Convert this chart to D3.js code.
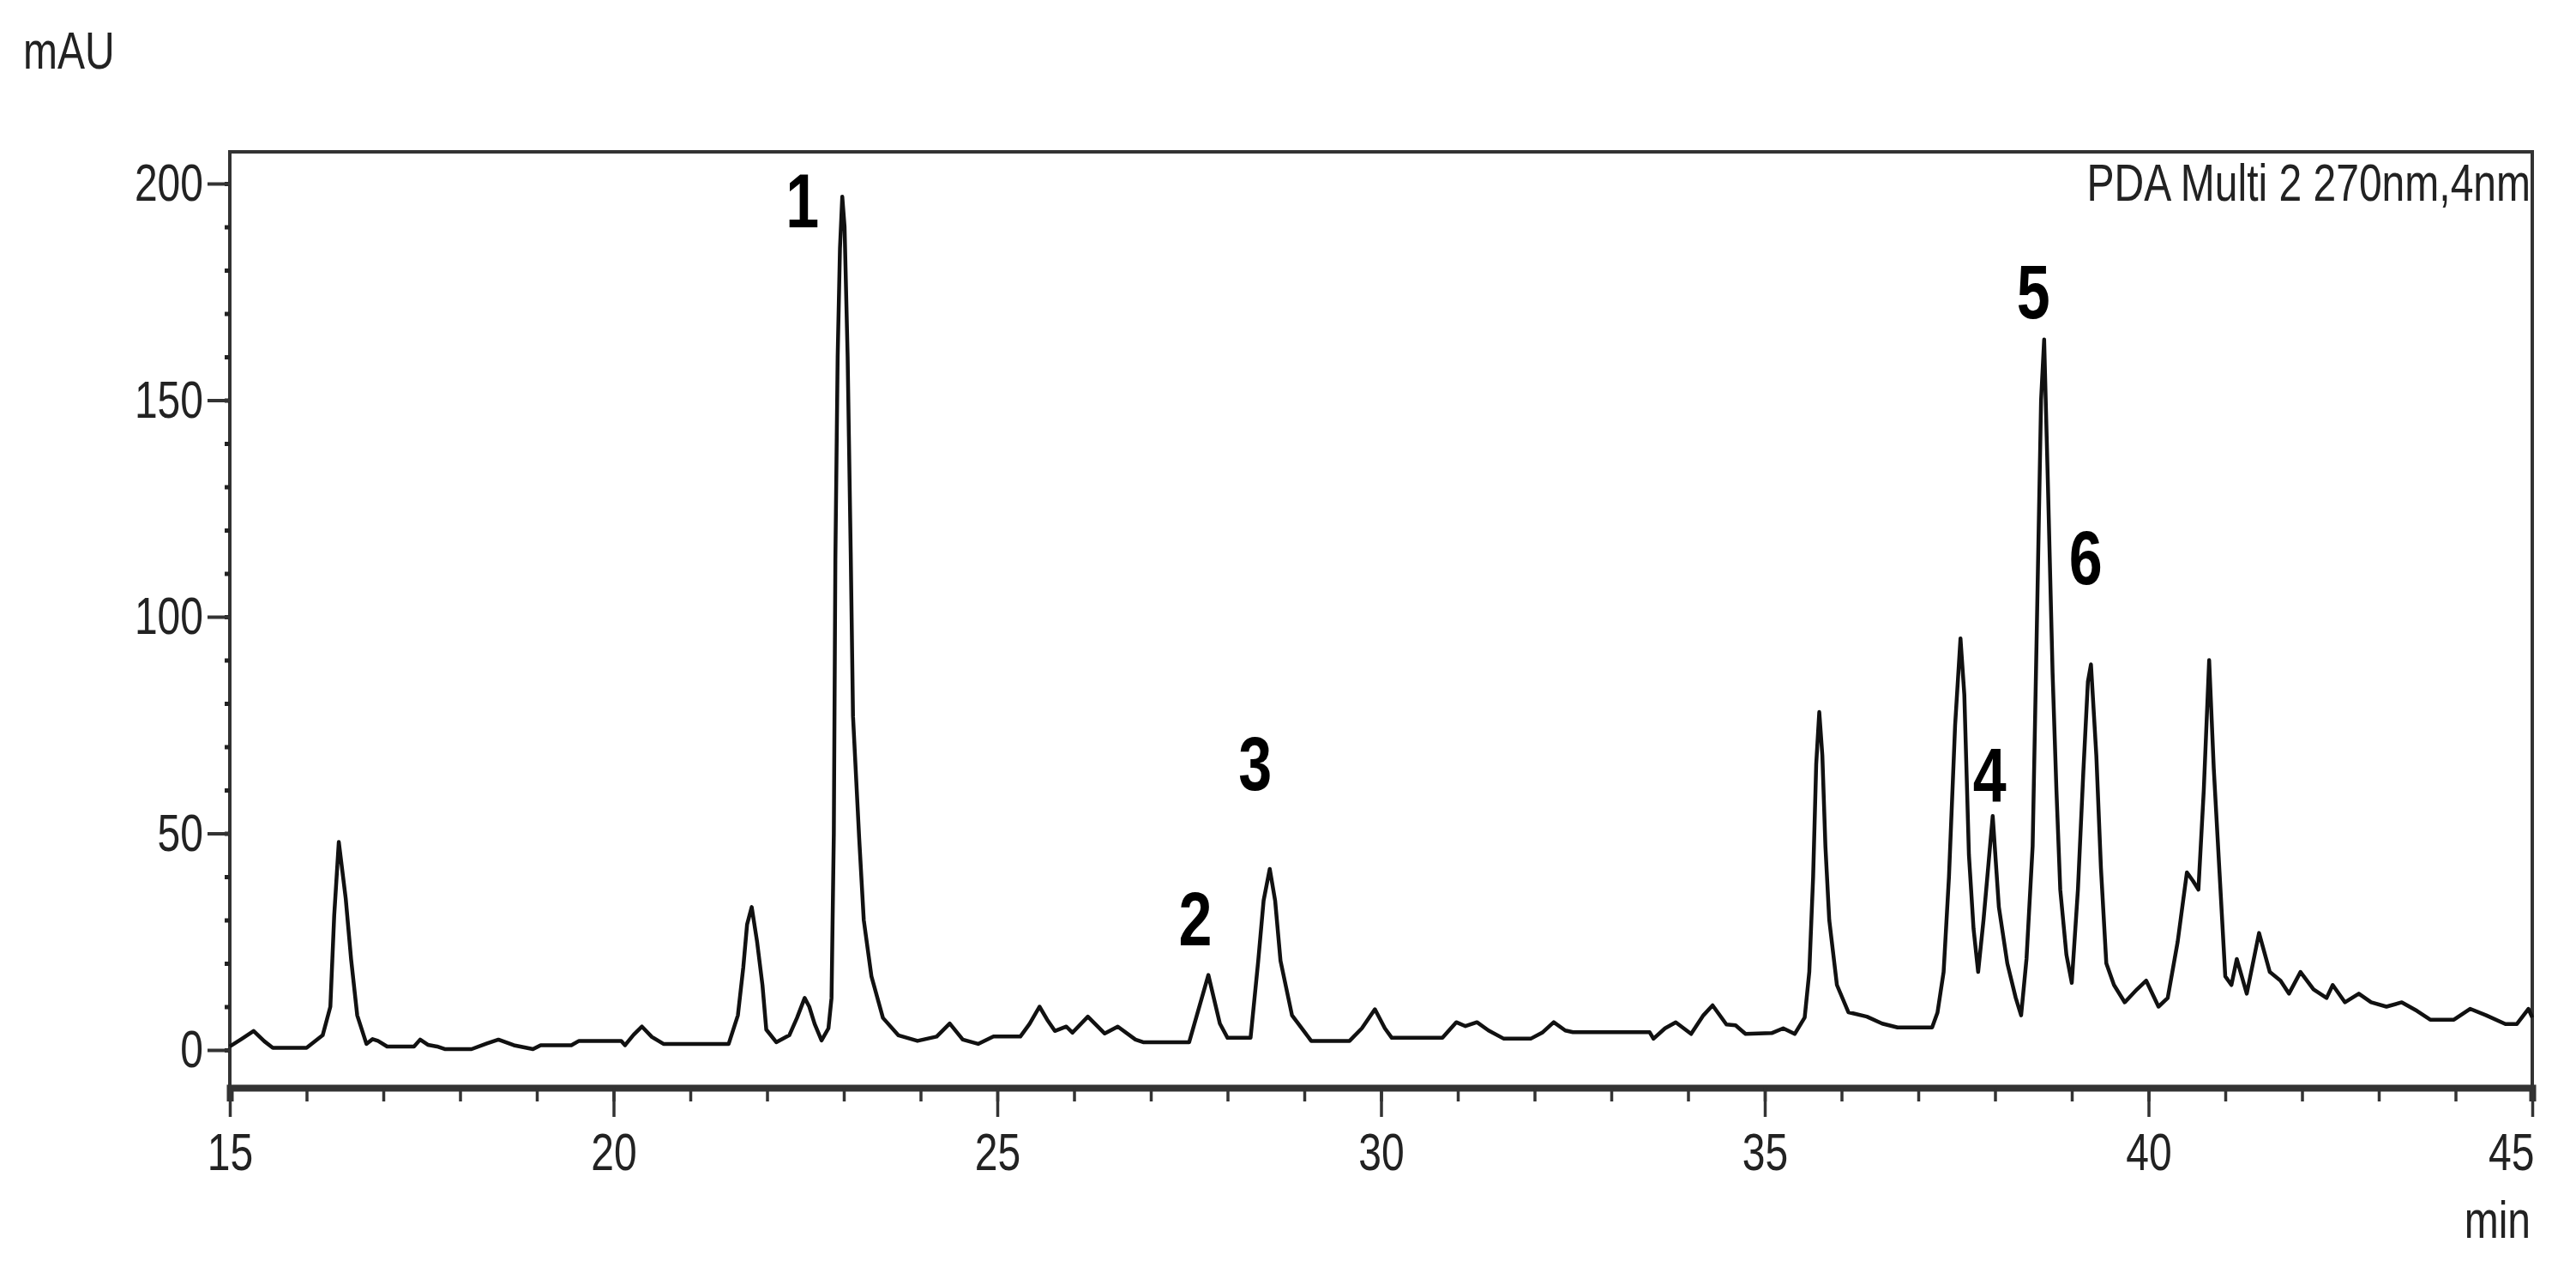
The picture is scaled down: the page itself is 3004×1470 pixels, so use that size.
<!DOCTYPE html>
<html>
<head>
<meta charset="utf-8">
<script src="https://cdn.jsdelivr.net/npm/d3@7"></script>
<style>
  html, body { margin: 0; padding: 0; background: #fff; }
  svg { display: block; }
</style>
</head>
<body>
<svg id="chart" width="3004" height="1470"></svg>
<script>
// retention time (min) and detector signal (mAU)
const retentionTime = [
  15.00, 15.15, 15.31, 15.45, 15.56, 16.00, 16.21, 16.31, 16.36, 16.42,
  16.51, 16.58, 16.66, 16.78, 16.86, 16.93, 17.05, 17.40, 17.48, 17.58,
  17.70, 17.80, 18.15, 18.35, 18.50, 18.70, 18.95, 19.05, 19.45, 19.55,
  20.10, 20.15, 20.26, 20.37, 20.50, 20.65, 21.50, 21.62, 21.69, 21.74,
  21.80, 21.87, 21.94, 21.99, 22.12, 22.29, 22.39, 22.49, 22.55, 22.62,
  22.71, 22.80, 22.84, 22.87, 22.89, 22.92, 22.95, 22.98, 23.01, 23.05,
  23.09, 23.12, 23.20, 23.26, 23.36, 23.51, 23.71, 23.96, 24.21, 24.38,
  24.55, 24.75, 24.95, 25.30, 25.42, 25.55, 25.65, 25.75, 25.90, 25.98,
  26.18, 26.40, 26.57, 26.80, 26.90, 27.50, 27.60, 27.75, 27.90, 28.00,
  28.30, 28.40, 28.47, 28.55, 28.62, 28.69, 28.84, 29.09, 29.59, 29.75,
  29.92, 30.05, 30.14, 30.80, 30.98, 31.10, 31.25, 31.40, 31.60, 31.95,
  32.10, 32.25, 32.40, 32.50, 33.50, 33.55, 33.70, 33.84, 34.04, 34.20,
  34.32, 34.50, 34.62, 34.75, 35.09, 35.24, 35.39, 35.52, 35.58, 35.63,
  35.67, 35.71, 35.75, 35.79, 35.84, 35.94, 36.09, 36.33, 36.53, 36.73,
  37.18, 37.25, 37.33, 37.40, 37.48, 37.55, 37.60, 37.66, 37.72, 37.78,
  37.85, 37.92, 37.97, 38.05, 38.16, 38.27, 38.34, 38.41, 38.49, 38.54,
  38.60, 38.64, 38.69, 38.75, 38.80, 38.85, 38.93, 39.00, 39.08, 39.15,
  39.21, 39.25, 39.32, 39.38, 39.45, 39.55, 39.69, 39.85, 39.97, 40.13,
  40.25, 40.38, 40.50, 40.58, 40.65, 40.72, 40.79, 40.85, 40.90, 41.00,
  41.08, 41.15, 41.28, 41.44, 41.58, 41.72, 41.83, 41.98, 42.15, 42.32,
  42.40, 42.56, 42.74, 42.90, 43.10, 43.30, 43.50, 43.67, 43.98, 44.19,
  44.40, 44.65, 44.80, 44.95, 45.00
]
const signal = [
  0.8, 2.5, 4.4, 2.0, 0.5, 0.5, 3.4, 10, 31, 48,
  35, 21, 8, 1.4, 2.5, 2.1, 0.8, 0.8, 2.4, 1.2,
  0.8, 0.2, 0.2, 1.5, 2.4, 1.1, 0.2, 1.1, 1.1, 2.1,
  2.1, 1.1, 3.5, 5.4, 3.0, 1.4, 1.4, 8, 19, 29,
  33, 25, 15, 4.7, 1.8, 3.4, 7.4, 12, 10, 6,
  2.2, 5, 12, 50, 113, 160, 185, 197, 190, 160,
  115, 77, 49, 30, 17, 7.4, 3.4, 2.1, 3.1, 6.1,
  2.4, 1.4, 3.1, 3.1, 6, 10, 7, 4.4, 5.4, 4,
  7.7, 3.8, 5.4, 2.4, 1.8, 1.8, 8, 17.3, 6.1, 2.8,
  2.8, 20.6, 34.5, 41.8, 34.5, 20.6, 8, 2.1, 2.1, 5,
  9.4, 5, 2.8, 2.8, 6.4, 5.5, 6.4, 4.5, 2.6, 2.6,
  4, 6.4, 4.5, 4.1, 4.1, 2.6, 5, 6.4, 3.7, 8,
  10.3, 5.9, 5.7, 3.7, 3.9, 5, 3.7, 7.5, 18, 40,
  66, 78, 68, 47, 30, 15, 8.7, 7.7, 6.1, 5.2,
  5.2, 8.6, 18, 40, 75, 95, 82, 45, 28, 18,
  30, 44, 54, 33, 20, 12, 8, 21, 47, 93,
  150, 164, 130, 87, 60, 37, 22, 15.5, 37, 64,
  85, 89, 68, 42, 20, 15, 11, 14, 16, 10,
  12, 25, 41, 39, 37, 60, 90, 65, 49, 17,
  15, 21, 13, 27, 18, 16, 13, 18, 14, 12,
  15, 11, 13, 11, 10, 11, 9, 7, 7, 9.5,
  8, 6, 6, 9.5, 7.5
]

// peak numbers: label text, time and signal at the label baseline
const peakNames = ['1', '2', '3', '4', '5', '6']
const peakTimes = [22.46, 27.58, 28.36, 37.93, 38.50, 39.18]
const peakLevels = [190, 24.2, 60, 57.2, 169, 107.5]

const xTicks = [15, 20, 25, 30, 35, 40, 45]
const yTicks = [0, 50, 100, 150, 200]
const detectorLabel = 'PDA Multi 2 270nm,4nm'

const svg = d3.select('#chart')
const font = "'Liberation Sans', Arial, sans-serif"
const stretch = 1.28   // the source lettering is taller than it is wide

const plotLeft = 268, plotRight = 2953, plotTop = 177, plotBottom = 1268

const x = d3.scaleLinear().domain([15, 45]).range([plotLeft, plotRight])
const y = d3.scaleLinear().domain([0, 200]).range([1224, 214])

function label(px, py, txt, size, anchor, weight) {
    return svg.append('text')
        .attr('transform', `translate(${px},${py}) scale(1,${stretch})`)
        .attr('text-anchor', anchor || 'start')
        .attr('font-family', font)
        .attr('font-size', size)
        .attr('font-weight', weight || 'normal')
        .attr('fill', '#222')
        .text(txt)
}

// frame
svg.append('rect')
    .attr('x', plotLeft).attr('y', plotTop)
    .attr('width', plotRight - plotLeft).attr('height', plotBottom - plotTop)
    .attr('fill', 'none')
    .attr('stroke', '#333')
    .attr('stroke-width', 4)

// x axis
let xAxis = svg.append('g')
    .attr('transform', `translate(0,${plotBottom})`)
    .call(d3.axisBottom(x).tickValues(d3.range(15, 45.01, 1)).tickSize(16).tickFormat(''))
xAxis.select('.domain').attr('stroke', '#333').attr('stroke-width', 8)
xAxis.selectAll('.tick line').attr('stroke', '#333').attr('stroke-width', 3.5)

let xMajor = svg.append('g')
    .attr('transform', `translate(0,${plotBottom})`)
    .call(d3.axisBottom(x).tickValues(xTicks).tickSize(34))
xMajor.select('.domain').remove()
xMajor.selectAll('.tick line').attr('stroke', '#333').attr('stroke-width', 3.5)
xMajor.selectAll('.tick text')
    .attr('y', 52 / stretch)
    .attr('transform', `scale(1,${stretch})`)
    .attr('font-family', font)
    .attr('font-size', 48)
    .attr('fill', '#222')
    .filter(d => d === 45)
    .attr('text-anchor', 'end')
    .attr('x', 2)

// y axis
let yMinor = svg.append('g')
    .attr('transform', `translate(${plotLeft},0)`)
    .call(d3.axisLeft(y).tickValues(d3.range(0, 201, 10)).tickSize(6).tickFormat(''))
yMinor.select('.domain').remove()
yMinor.selectAll('.tick line').attr('stroke', '#222').attr('stroke-width', 5)

let yAxis = svg.append('g')
    .attr('transform', `translate(${plotLeft},0)`)
    .call(d3.axisLeft(y).tickValues(yTicks).tickSize(26).tickPadding(5))
yAxis.select('.domain').remove()
yAxis.selectAll('.tick line').attr('stroke', '#333').attr('stroke-width', 4)
yAxis.selectAll('.tick text')
    .attr('transform', `scale(1,${stretch})`)
    .attr('font-family', font)
    .attr('font-size', 48)
    .attr('fill', '#222')

// trace
let points = retentionTime.map((t, i) => [t, signal[i]])
let line = d3.line()
    .x(d => x(d[0]))
    .y(d => y(d[1]))

svg.append('path')
    .datum(points)
    .attr('fill', 'none')
    .attr('stroke', '#111')
    .attr('stroke-width', 4.5)
    .attr('stroke-linejoin', 'round')
    .attr('d', line)

// peak numbers
peakNames.forEach((name, i) => {
    label(x(peakTimes[i]), y(peakLevels[i]), name, 70, 'middle', 'bold')
        .attr('fill', '#000')
})

// units and detector text
label(27, 80, 'mAU', 48)
label(plotRight - 2, 1443, 'min', 48, 'end')
label(plotRight - 2, 234, detectorLabel, 48, 'end')
</script>
</body>
</html>
